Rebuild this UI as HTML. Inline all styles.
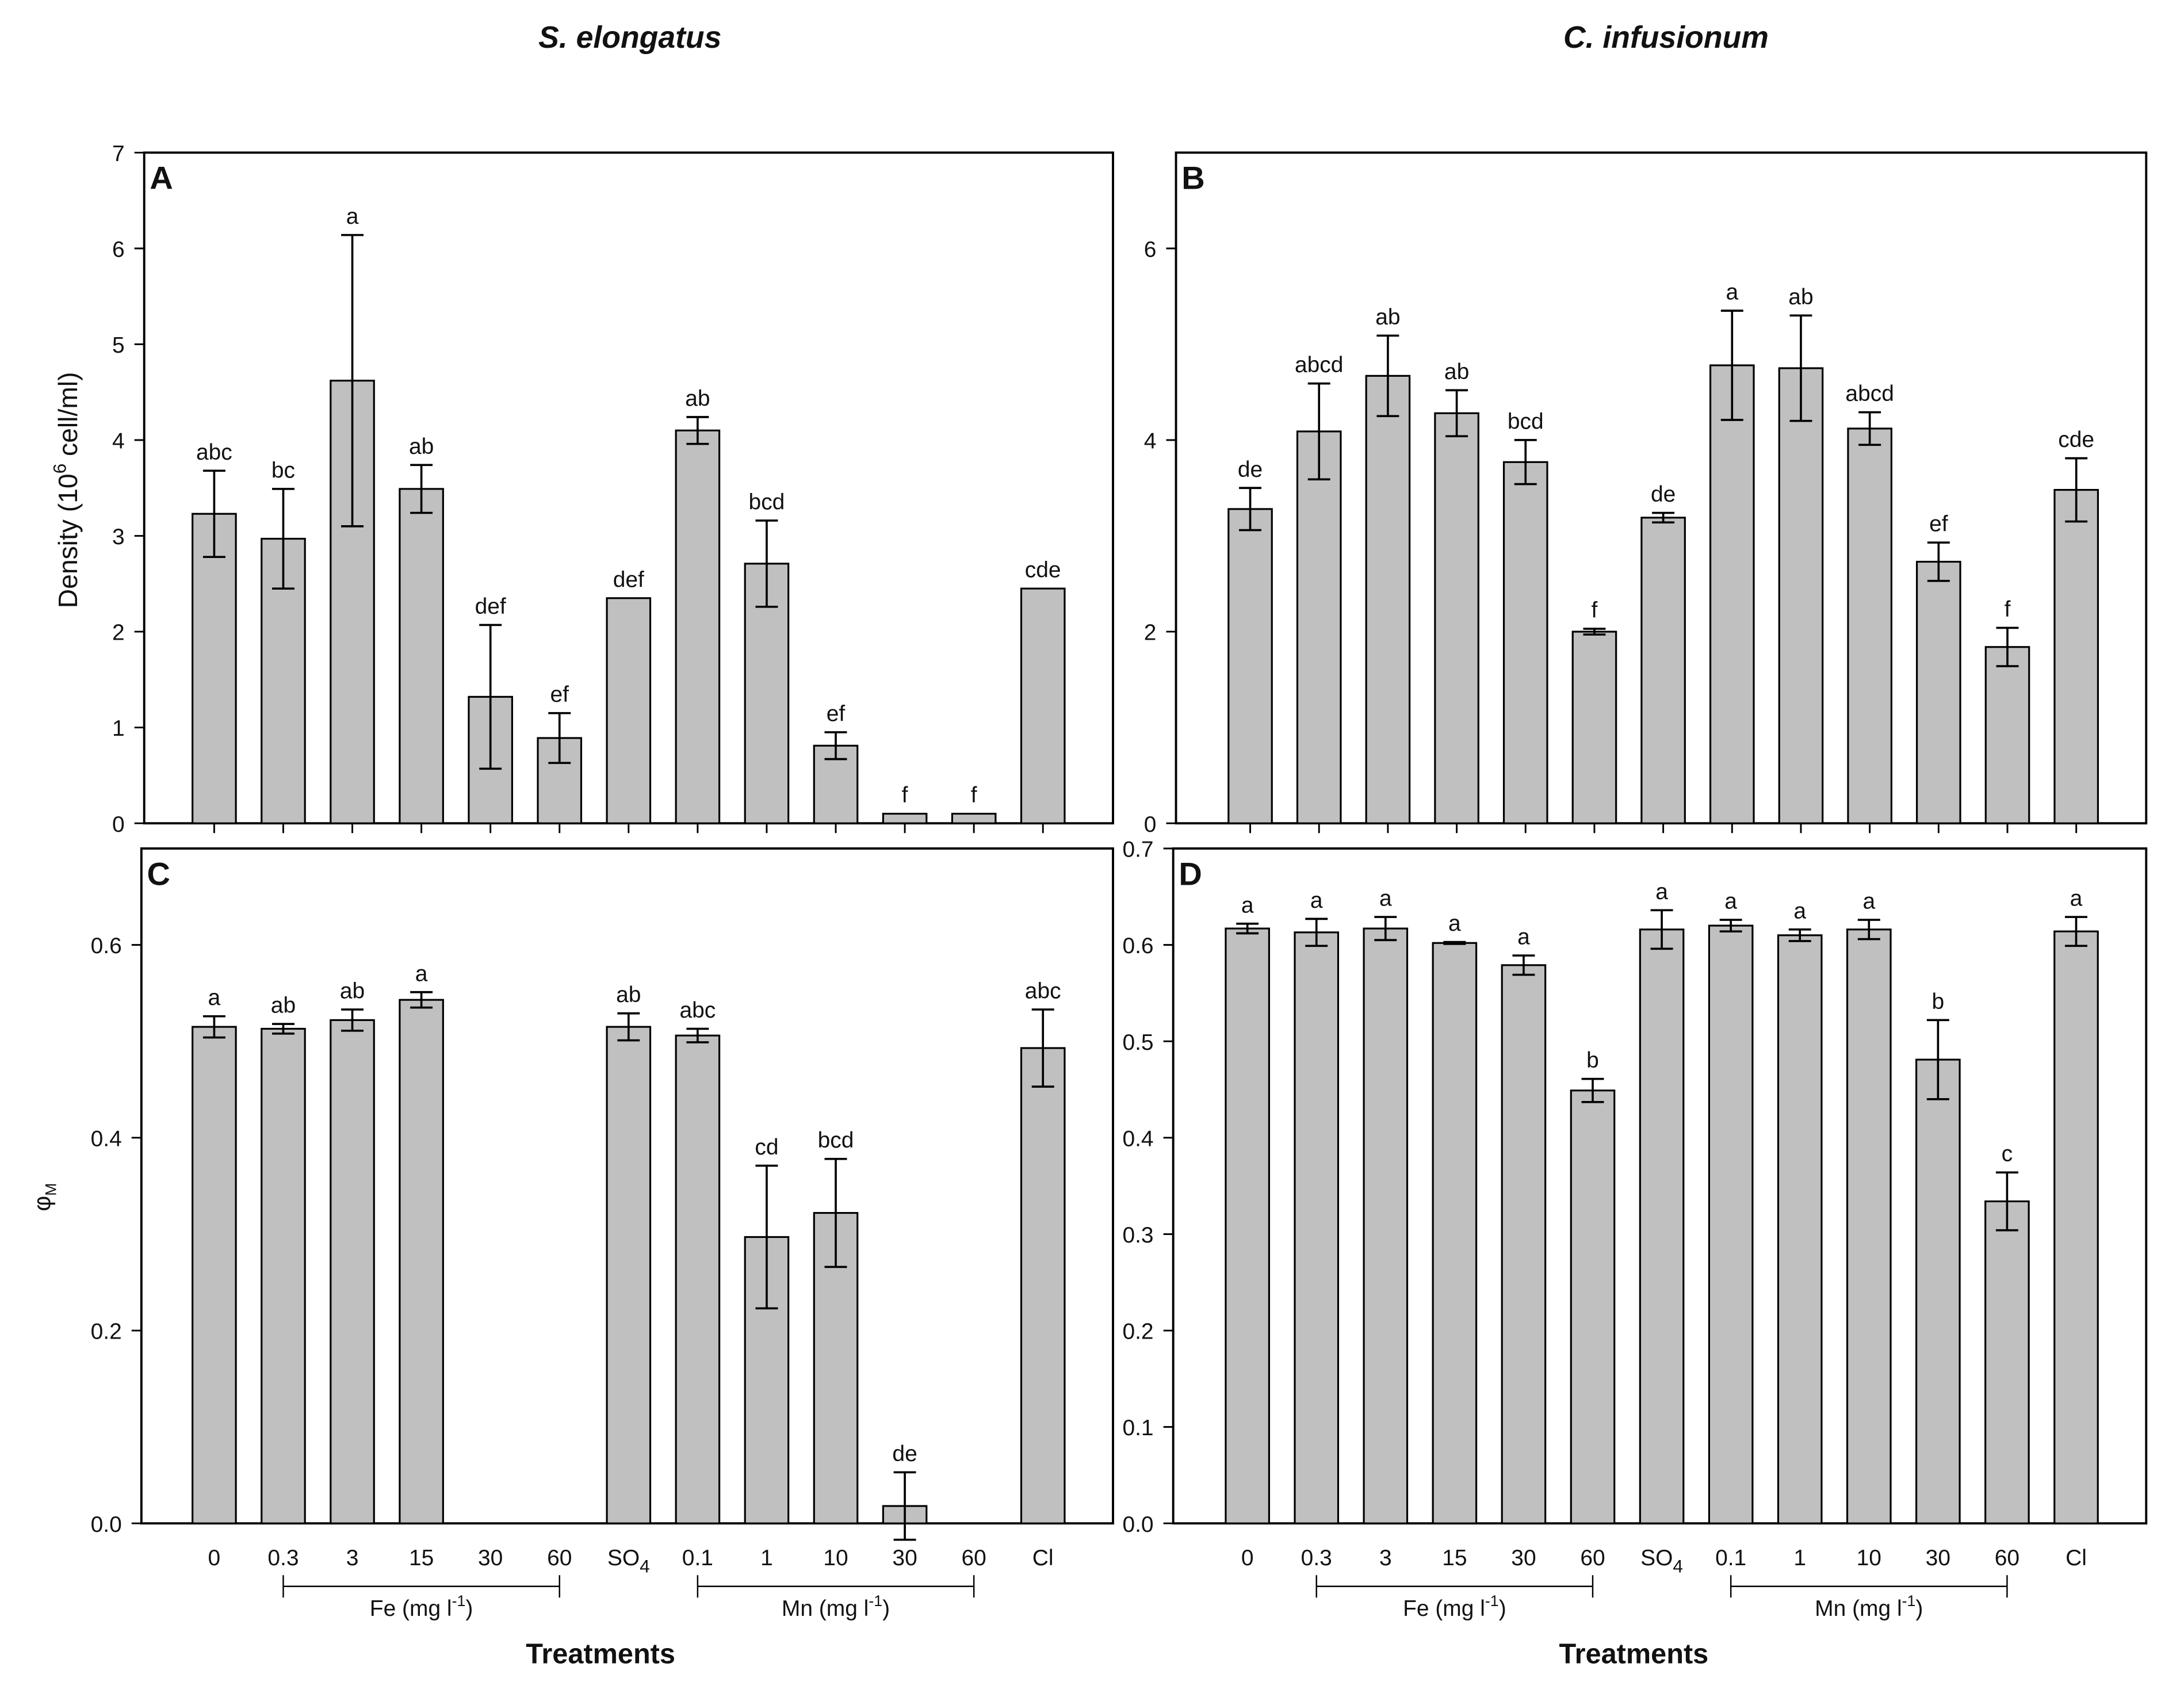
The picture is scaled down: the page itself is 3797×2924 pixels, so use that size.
<!DOCTYPE html>
<html><head><meta charset="utf-8"><style>
html,body{margin:0;padding:0;background:#fff}
svg{display:block}
text{font-family:"Liberation Sans",sans-serif;fill:#111}
</style></head><body>
<svg id="fig" width="3797" height="2924" viewBox="0 0 1560 1201.3" preserveAspectRatio="none" xmlns="http://www.w3.org/2000/svg">
<text x="450" y="34" text-anchor="middle" font-size="22" font-weight="bold" font-style="italic">S. elongatus</text>
<text x="1190" y="34" text-anchor="middle" font-size="22" font-weight="bold" font-style="italic">C. infusionum</text>
</svg>
<script>
const cats = ["0","0.3","3","15","30","60","SO4","0.1","1","10","30","60","Cl"];
const aVals = [3.23,2.97,4.62,3.49,1.32,0.89,2.35,4.10,2.71,0.81,0.10,0.10,2.45];
const aErr = [0.45,0.52,1.52,0.25,0.75,0.26,0,0.14,0.45,0.14,0,0,0];
const aLet = ["abc","bc","a","ab","def","ef","def","ab","bcd","ef","f","f","cde"];
const bVals = [3.28,4.09,4.67,4.28,3.77,2.00,3.19,4.78,4.75,4.12,2.73,1.84,3.48];
const bErr = [0.22,0.50,0.42,0.24,0.23,0.03,0.05,0.57,0.55,0.17,0.20,0.20,0.33];
const bLet = ["de","abcd","ab","ab","bcd","f","de","a","ab","abcd","ef","f","cde"];
const cVals = [0.515,0.513,0.522,0.543,null,null,0.515,0.506,0.297,0.322,0.018,null,0.493];
const cErr = [0.011,0.005,0.011,0.008,0,0,0.014,0.007,0.074,0.056,0.035,0,0.040];
const cLet = ["a","ab","ab","a","","","ab","abc","cd","bcd","de","","abc"];
const dVals = [0.617,0.613,0.617,0.602,0.579,0.449,0.616,0.620,0.610,0.616,0.481,0.334,0.614];
const dErr = [0.005,0.014,0.012,0.001,0.010,0.012,0.020,0.006,0.006,0.010,0.041,0.030,0.015];
const dLet = ["a","a","a","a","a","b","a","a","a","a","b","c","a"];
const aTicks = [0,1,2,3,4,5,6,7];
const bTicks = [0,2,4,6];
const cTicks = [0.0,0.2,0.4,0.6];
const dTicks = [0.0,0.1,0.2,0.3,0.4,0.5,0.6,0.7];

const NS="http://www.w3.org/2000/svg";
const svg=document.getElementById('fig');
function mk(tag,attrs,parent){const e=document.createElementNS(NS,tag);for(const k in attrs)e.setAttribute(k,attrs[k]);(parent||svg).appendChild(e);return e;}

function panel(cfg){
  const g=mk('g',{});
  
  
  const y=v=>cfg.bottom-(v-cfg.min)/(cfg.max-cfg.min)*(cfg.bottom-cfg.top);
  const x=i=>cfg.x0+i*cfg.step;
  // frame
  const fr=mk('rect',{x:cfg.left,y:cfg.top,width:cfg.right-cfg.left,height:cfg.bottom-cfg.top,fill:'none',stroke:'#000','stroke-width':1.6},g);
  
  
  const pl=mk('text',{x:cfg.left+4,y:cfg.top+26,'font-size':23,'font-weight':'bold'},g);
  pl.textContent=cfg.id;
  
  
  // y ticks
  cfg.ticks.forEach(t=>{
    const ty=y(t);
    mk('line',{x1:cfg.left-7,x2:cfg.left,y1:ty,y2:ty,stroke:'#000','stroke-width':1.2},g);
    const tl=mk('text',{x:cfg.left-14,y:ty+6,'text-anchor':'end','font-size':16},g);
    tl.textContent=cfg.fmt(t);
    
    
  });
  // bars
  cfg.vals.forEach((v,i)=>{
    const cx=x(i);
    if(cfg.xticks) mk('line',{x1:cx,x2:cx,y1:cfg.bottom,y2:cfg.bottom+7,stroke:'#000','stroke-width':1.2},g);
    if(v===null) return;
    const r=mk('rect',{x:cx-15.5,y:y(v),width:31,height:cfg.bottom-y(v),fill:'#c0c0c0',stroke:'#000','stroke-width':1.3},g);
    
    
    const e=cfg.err[i];
    if(e>0){
      mk('line',{x1:cx,x2:cx,y1:y(v-e),y2:y(v+e),stroke:'#000','stroke-width':1.5},g);
      mk('line',{x1:cx-8,x2:cx+8,y1:y(v-e),y2:y(v-e),stroke:'#000','stroke-width':1.5},g);
      mk('line',{x1:cx-8,x2:cx+8,y1:y(v+e),y2:y(v+e),stroke:'#000','stroke-width':1.5},g);
    }
    if(cfg.lets[i]){
      const lt=mk('text',{x:cx,y:y(v+e)-8,'text-anchor':'middle','font-size':16},g);
      lt.textContent=cfg.lets[i];
      
      
    }
  });
  if(cfg.xlabels){
    cats.forEach((c,i)=>{
      const t=mk('text',{x:x(i),y:1118,'text-anchor':'middle','font-size':16},g);
      if(c==='SO4'){t.textContent='SO';const s=mk('tspan',{dy:5,'font-size':13},t);s.textContent='4';}
      else t.textContent=c;
      
      
    });
    [[1,5,'Fe'],[7,11,'Mn']].forEach(([a,b,n])=>{
      mk('line',{x1:x(a),x2:x(b),y1:1133,y2:1133,stroke:'#000','stroke-width':1},g);
      mk('line',{x1:x(a),x2:x(a),y1:1125,y2:1141,stroke:'#000','stroke-width':1},g);
      mk('line',{x1:x(b),x2:x(b),y1:1125,y2:1141,stroke:'#000','stroke-width':1},g);
      const t=mk('text',{x:(x(a)+x(b))/2,y:1154,'text-anchor':'middle','font-size':16},g);
      t.textContent=n+' (mg l';
      const s=mk('tspan',{dy:-7,'font-size':11},t);s.textContent='-1';
      const s2=mk('tspan',{dy:7},t);s2.textContent=')';
      
      
    });
    const tt=mk('text',{x:(x(0)+x(12))/2-20,y:1188,'text-anchor':'middle','font-size':20,'font-weight':'bold'},g);
    tt.textContent='Treatments';
    
    
  }
}
panel({id:'A',left:103,right:795,top:109,bottom:588,min:0,max:7,ticks:aTicks,fmt:t=>String(t),vals:aVals,err:aErr,lets:aLet,x0:153,step:49.33,xticks:true});
panel({id:'B',left:840,right:1533,top:109,bottom:588,min:0,max:7,ticks:bTicks,fmt:t=>String(t),vals:bVals,err:bErr,lets:bLet,x0:893,step:49.17,xticks:true});
panel({id:'C',left:101,right:795,top:606,bottom:1088,min:0,max:0.7,ticks:cTicks,fmt:t=>t.toFixed(1),vals:cVals,err:cErr,lets:cLet,x0:153,step:49.33,xlabels:true});
panel({id:'D',left:838,right:1533,top:606,bottom:1088,min:0,max:0.7,ticks:dTicks,fmt:t=>t.toFixed(1),vals:dVals,err:dErr,lets:dLet,x0:891,step:49.33,xlabels:true});

const yt=mk('text',{transform:'translate(55,350) rotate(-90)','text-anchor':'middle','font-size':19});
yt.textContent='Density (10';
const sup=mk('tspan',{dy:-8,'font-size':13},yt);sup.textContent='6';
const rest=mk('tspan',{dy:8},yt);rest.textContent=' cell/ml)';


const yc=mk('text',{transform:'translate(36,855) rotate(-90)','text-anchor':'middle','font-size':17});
yc.textContent='φ';
const sub=mk('tspan',{dy:4,'font-size':11},yc);sub.textContent='M';


</script>
</body></html>
